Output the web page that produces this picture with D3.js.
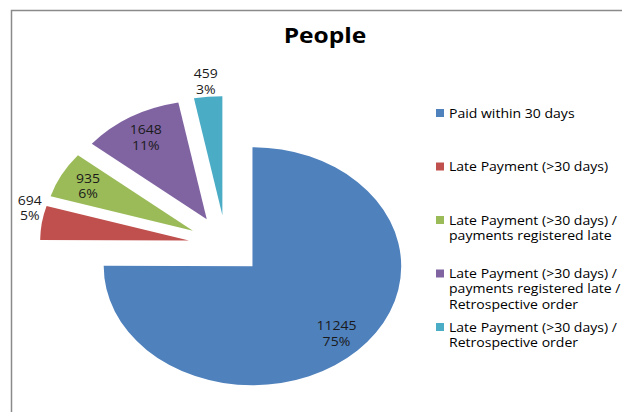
<!DOCTYPE html>
<html lang="en">
<head>
  <meta charset="UTF-8">
  <title>People</title>
  <script src="https://d3js.org/d3.v7.min.js"></script>
  <style>
    body { margin: 0; background: #fff; }
    svg { display: block; font-family: "Open Sans", "Noto Sans", sans-serif; }
  </style>
</head>
<body>
  <div id="chart"></div>
  <script>
    // chart data
    const categories = [
      "Paid within 30 days",
      "Late Payment (>30 days)",
      "Late Payment (>30 days) / payments registered late",
      "Late Payment (>30 days) / payments registered late / Retrospective order",
      "Late Payment (>30 days) / Retrospective order"
    ];
    const legendLines = [
      ["Paid within 30 days"],
      ["Late Payment (>30 days)"],
      ["Late Payment (>30 days) /", "payments registered late"],
      ["Late Payment (>30 days) /", "payments registered late /", "Retrospective order"],
      ["Late Payment (>30 days) /", "Retrospective order"]
    ];
    const values = [11245, 694, 935, 1648, 459];
    const colors = ["#4F81BD", "#C0504D", "#9BBB59", "#8064A2", "#4BACC6"];

    const width = 622, height = 412;
    const cx = 226, cy = 245;      // pie centre before explode
    const radius = 119;
    const stretch = 1.25;          // the pie is drawn wider than tall
    const textStretch = 1.17;      // text in the source is a bit wide too
    const explode = 30;

    const total = d3.sum(values);

    const svg = d3.select("#chart").append("svg")
      .attr("width", width)
      .attr("height", height);

    // frame (clipped at right and bottom like the reference)
    svg.append("rect")
      .attr("x", 11.5).attr("y", 10.5)
      .attr("width", 700).attr("height", 500)
      .attr("fill", "#fff")
      .attr("stroke", "#8a8a8a")
      .attr("stroke-width", 1.5);

    svg.append("text")
      .attr("transform", `translate(325,43) scale(${textStretch},1)`)
      .attr("text-anchor", "middle")
      .style("font-size", "21px")
      .style("font-weight", "bold")
      .attr("fill", "#000")
      .text("People");

    const pie = d3.pie().sort(null).value(d => d);
    const arcs = pie(values);
    const arc = d3.arc().innerRadius(0).outerRadius(radius);

    const mid = d => (d.startAngle + d.endAngle) / 2;

    const pieG = svg.append("g")
      .attr("transform", `translate(${cx},${cy}) scale(${stretch},1)`);

    pieG.selectAll("path")
      .data(arcs)
      .join("path")
      .attr("transform", d => `translate(${explode * Math.sin(mid(d))},${-explode * Math.cos(mid(d))})`)
      .attr("d", arc)
      .attr("fill", (d, i) => colors[i]);

    // data labels: value + percent
    const lineH = 15.5, boxW = 24, boxH = 30;
    const labels = svg.append("g")
      .style("font-size", "12px")
      .attr("fill", "#1a1a1a")
      .attr("text-anchor", "middle");

    arcs.forEach((d, i) => {
      const a = mid(d);
      const s = Math.sin(a), c = Math.cos(a);
      let x, y;
      if (d.value / total < 0.05) {
        // outside label, box set outward from the arc edge
        const r = explode + radius;
        x = cx + r * s * stretch + Math.sign(s) * boxW / 2 * Math.min(1, Math.abs(s) / 0.5);
        y = cy - r * c - Math.sign(c) * boxH / 2 * Math.min(1, Math.abs(c) / 0.1);
      } else {
        const r = explode + radius * 0.8;
        x = cx + r * s * stretch;
        y = cy - r * c;
      }
      const t = labels.append("text")
        .attr("transform", `translate(${x},${y - lineH / 2 + 4.5}) scale(${textStretch},1)`);
      t.append("tspan").attr("x", 0).attr("y", 0).text(values[i]);
      t.append("tspan").attr("x", 0).attr("y", lineH)
        .text(Math.round(values[i] / total * 100) + "%");
    });

    // legend
    const legendY = d3.scaleLinear().domain([0, categories.length - 1]).range([113, 327]);
    const legend = svg.append("g").style("font-size", "12px");
    const item = legend.selectAll("g")
      .data(categories)
      .join("g")
      .attr("transform", (d, i) => `translate(436,${legendY(i)})`);

    item.append("rect")
      .attr("x", 0).attr("y", -4)
      .attr("width", 8).attr("height", 8)
      .attr("fill", (d, i) => colors[i]);

    item.append("text")
      .attr("fill", "#000")
      .attr("transform", `translate(13,0) scale(${textStretch},1)`)
      .selectAll("tspan")
      .data((d, i) => legendLines[i])
      .join("tspan")
      .attr("x", 0)
      .attr("y", (d, j) => j * 15.5 + 4.5)
      .text(d => d);
  </script>
</body>
</html>
